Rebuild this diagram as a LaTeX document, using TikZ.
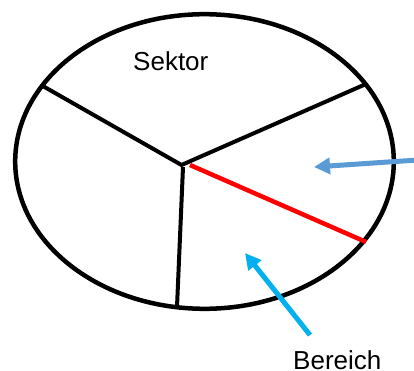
\documentclass[tikz,border=0pt]{standalone}
\usepackage{fontspec}
\setmainfont{Liberation Sans}
\usetikzlibrary{arrows.meta}
\definecolor{arrblue}{HTML}{5B9BD5}
\definecolor{arrcyan}{HTML}{00B0F0}
\begin{document}
\begin{tikzpicture}[x=1pt,y=-1pt,
  rim/.style={line width=4.5pt},
  spoke/.style={line width=4pt},
  radius line/.style={line width=4.5pt, red},
  pointer/.style={line width=5pt, -{Triangle[length=16pt,width=16pt]}},
  label/.style={anchor=base west, inner sep=0pt, font=\fontsize{26}{30}\selectfont}]
\useasboundingbox (0,0) rectangle (414,371);
\fill[white] (0,0) rectangle (414,371);
\coordinate (c) at (204.5,161.5);
\draw[rim] (c) ellipse [x radius=189.3, y radius=147.3];
\coordinate (m) at (181.5,165);
\coordinate (mb) at (183,167);
\coordinate (pl) at (41,85);
\coordinate (pr) at (366,84);
\coordinate (pb) at (177,307);
\coordinate (rs) at (190,165);
\coordinate (re) at (366,242);
\draw[spoke] (pl) -- (m) -- (pr);
\draw[spoke] (mb) -- (pb);
\draw[radius line] (rs) -- (re);
\node[label] (sektor) at (133,71) {Sektor};
\node[label] (bereich) at (293,369) {Bereich};
\coordinate (bt) at (418,160);
\coordinate (bh) at (314,167);
\coordinate (ct) at (310,335);
\coordinate (ch) at (245,253);
\draw[pointer, arrblue] (bt) -- (bh);
\draw[pointer, arrcyan] (ct) -- (ch);
\end{tikzpicture}
\end{document}
